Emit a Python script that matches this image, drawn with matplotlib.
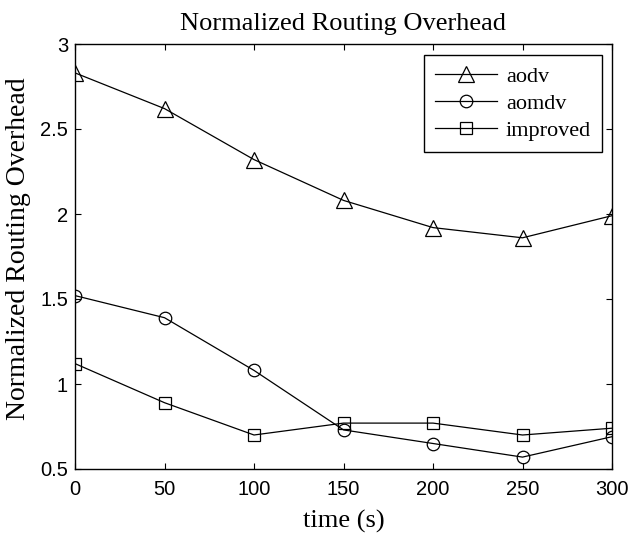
import matplotlib
matplotlib.use('Agg')
import matplotlib.pyplot as plt

# data
timeVals = [0, 50, 100, 150, 200, 250, 300]
aodv = [2.83, 2.62, 2.32, 2.08, 1.92, 1.86, 1.99]
aomdv = [1.52, 1.39, 1.08, 0.73, 0.65, 0.57, 0.69]
improved = [1.12, 0.89, 0.70, 0.77, 0.77, 0.70, 0.74]
yTicks = [0.5, 1, 1.5, 2, 2.5, 3]
yTickLabels = ['0.5', '1', '1.5', '2', '2.5', '3']

serif = 'Liberation Serif'
sans = 'Liberation Sans'

fig = plt.figure(figsize=(6.29, 5.34), dpi=100)
ax = fig.add_axes([75 / 629, 1 - 469 / 534, (612 - 75) / 629, (469 - 44) / 534])

ax.plot(timeVals, aodv, color='black', lw=0.9, marker='^', ms=11,
        mfc='none', mec='black', mew=0.9, label='aodv')
ax.plot(timeVals, aomdv, color='black', lw=0.9, marker='o', ms=9,
        mfc='none', mec='black', mew=0.9, label='aomdv')
ax.plot(timeVals, improved, color='black', lw=0.9, marker='s', ms=9,
        mfc='none', mec='black', mew=0.9, label='improved')

ax.set_xlim(0, 300)
ax.set_ylim(0.5, 3)
ax.set_xticks(timeVals)
ax.set_yticks(yTicks)
ax.set_yticklabels(yTickLabels)
ax.tick_params(direction='in', length=4, width=0.8, top=True, right=True,
               labelsize=14.5, colors='black')
ax.tick_params(axis='x', pad=8)
ax.tick_params(axis='y', pad=5)
for lbl in ax.get_xticklabels() + ax.get_yticklabels():
  lbl.set_fontfamily(sans)
for sp in ax.spines.values():
  sp.set_linewidth(1.0)

ax.set_title('Normalized Routing Overhead', fontfamily=serif, fontsize=19, pad=10)
ax.set_xlabel('time (s)', fontfamily=serif, fontsize=19, labelpad=8)
ax.set_ylabel('Normalized Routing Overhead', fontfamily=serif, fontsize=20)
ax.yaxis.set_label_coords(-0.082, 0.518)

leg = ax.legend(loc='upper right', bbox_to_anchor=(1 - 10 / 537, 1 - 11 / 425),
                prop={'family': serif, 'size': 16}, fancybox=False,
                edgecolor='black', framealpha=1, handlelength=2.8,
                borderaxespad=0, labelspacing=0.3, handletextpad=0.4,
                borderpad=0.5)
leg.get_frame().set_linewidth(1.0)

plt.savefig('out.png', dpi=100)
plt.close()
